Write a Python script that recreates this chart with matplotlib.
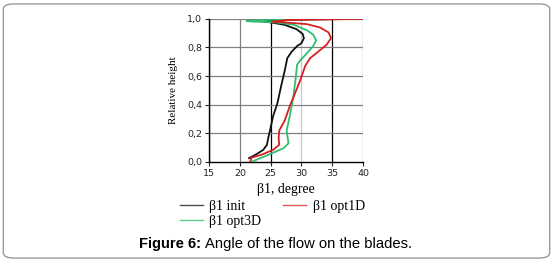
import matplotlib.pyplot as plt
from matplotlib.patches import FancyBboxPatch

# relative height vs beta1 angle
h_init = [0.026, 0.054, 0.084, 0.12, 0.165, 0.22, 0.32, 0.41, 0.53, 0.64, 0.725, 0.77, 0.81, 0.83,
          0.865, 0.895, 0.928, 0.958, 0.974, 0.984, 0.993, 1.0]
b_init = [21.5, 22.7, 23.8, 24.4, 24.6, 24.9, 25.4, 26.1, 26.7, 27.3, 27.7, 28.4, 29.3, 30.0,
          30.4, 30.2, 29.2, 27.3, 25.2, 23.3, 26.0, 40.0]

h_opt1d = [0.0, 0.03, 0.05, 0.084, 0.12, 0.165, 0.22, 0.29, 0.39, 0.48, 0.57, 0.67, 0.725, 0.77,
           0.82, 0.865, 0.905, 0.94, 0.963, 0.974, 0.98, 0.993, 1.0]
b_opt1d = [21.7, 21.9, 23.5, 25.4, 26.4, 26.3, 26.4, 27.3, 28.1, 28.96, 29.8, 30.6, 31.4, 32.7,
           34.1, 34.8, 34.4, 33.0, 30.9, 27.6, 25.2, 28.0, 40.0]

h_opt3d = [0.0, 0.026, 0.06, 0.096, 0.13, 0.19, 0.22, 0.32, 0.46, 0.6, 0.68, 0.71, 0.76, 0.81,
           0.85, 0.89, 0.92, 0.96, 0.977, 0.98, 0.984, 0.993, 0.998, 1.0]
b_opt3d = [21.9, 23.3, 25.2, 27.1, 27.9, 27.7, 27.6, 28.1, 28.7, 29.1, 29.3, 29.8, 30.9, 31.9,
           32.4, 31.9, 30.9, 28.7, 25.4, 22.7, 21.1, 24.5, 30.0, 40.0]

xticks = [15, 20, 25, 30, 35, 40]
yticks = [0.0, 0.2, 0.4, 0.6, 0.8, 1.0]

fig = plt.figure(figsize=(5.53, 2.62), dpi=100)

# rounded frame around the whole figure
frame = FancyBboxPatch((0.006, 0.015), 0.988, 0.97, boxstyle="round,pad=0,rounding_size=0.02",
                       transform=fig.transFigure, fc='none', ec='#999999', lw=1.0)
fig.patches.append(frame)

ax = fig.add_axes([0.378, 0.382, 0.2785, 0.546])
ax.set_xlim(15, 40)
ax.set_ylim(0, 1.0)

vcol = ['black', '#808080', 'black', '#c8c8c8', 'black', '#808080']
for x, c in zip(xticks, vcol):
    ax.axvline(x, color=c, lw=0.9, zorder=1)
for y in yticks[1:]:
    ax.axhline(y, color='#808080', lw=0.9, zorder=1)

ax.plot(b_init, h_init, color='#111111', lw=1.3, label='β1 init', zorder=3)
ax.plot(b_opt3d, h_opt3d, color='#2fbf71', lw=1.3, label='β1 opt3D', zorder=3)
ax.plot(b_opt1d, h_opt1d, color='#d42020', lw=1.3, label='β1 opt1D', zorder=4)

for s in ['top', 'right']:
    ax.spines[s].set_visible(False)
ax.spines['left'].set_linewidth(1.0)
ax.spines['bottom'].set_linewidth(1.0)

ax.set_xticks(xticks)
ax.set_yticks(yticks)
ax.set_yticklabels([('%.1f' % v).replace('.', ',') for v in yticks])
ax.tick_params(labelsize=6.8, length=3, width=0.8, colors='#222222', pad=2)

ax.set_xlabel('β1, degree', family='Liberation Serif', fontsize=10, labelpad=4)
ax.set_ylabel('Relative height', family='Liberation Serif', fontsize=8, labelpad=6.5)

leg = fig.legend(loc='upper left', bbox_to_anchor=(180 / 553, 0.238), ncol=2, frameon=False,
                 prop={'family': 'Liberation Serif', 'size': 10}, handlelength=1.65,
                 columnspacing=1.6, labelspacing=0.15, handletextpad=0.45,
                 borderaxespad=0, borderpad=0)
for ln in leg.get_lines():
    ln.set_linewidth(1.0)
    ln.set_alpha(0.75)

# caption: bold label followed by plain text
t1 = fig.text(139 / 553, 0.068, 'Figure 6:', ha='left', va='center',
              family='Liberation Sans', fontsize=10.6, weight='bold')
fig.canvas.draw()
bb = t1.get_window_extent()
fig.text((bb.x1 + 4) / 553, 0.068, 'Angle of the flow on the blades.', ha='left', va='center',
         family='Liberation Sans', fontsize=10.6)

fig.savefig('out.png', dpi=100)
